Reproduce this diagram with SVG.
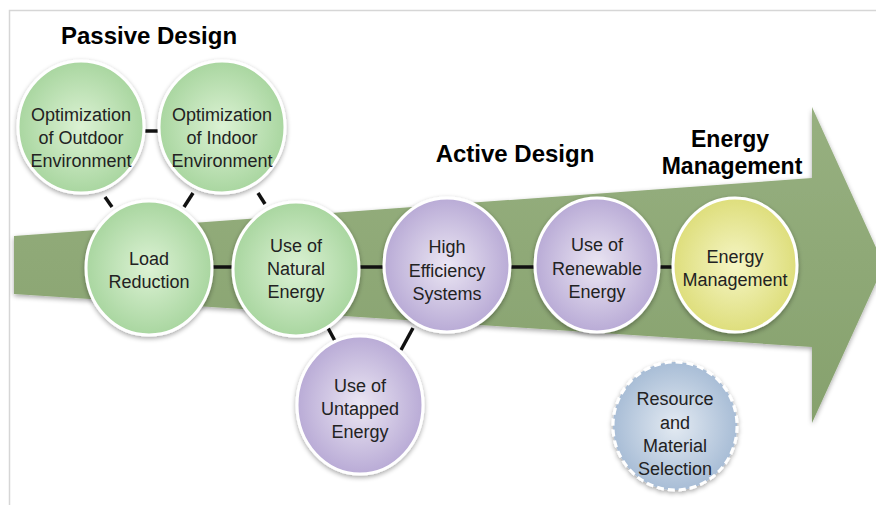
<svg xmlns="http://www.w3.org/2000/svg" width="876" height="505" viewBox="0 0 876 505">
  <defs>
    <radialGradient id="gGreen" cx="50%" cy="50%" r="50%">
      <stop offset="0" stop-color="#dcf2d4"/>
      <stop offset="1" stop-color="#a9d6a0"/>
    </radialGradient>
    <radialGradient id="gPurple" cx="50%" cy="50%" r="50%">
      <stop offset="0" stop-color="#ebe6f3"/>
      <stop offset="1" stop-color="#b9abd6"/>
    </radialGradient>
    <radialGradient id="gYellow" cx="50%" cy="50%" r="50%">
      <stop offset="0" stop-color="#f5f5c4"/>
      <stop offset="1" stop-color="#dede7c"/>
    </radialGradient>
    <radialGradient id="gBlue" cx="50%" cy="50%" r="50%">
      <stop offset="0" stop-color="#e3eaf2"/>
      <stop offset="1" stop-color="#a8bdd6"/>
    </radialGradient>
    <linearGradient id="gArrow" x1="0" y1="0" x2="0" y2="1">
      <stop offset="0" stop-color="#97b080"/>
      <stop offset="1" stop-color="#86a16d"/>
    </linearGradient>
    <filter id="shadow" x="-20%" y="-20%" width="140%" height="140%">
      <feGaussianBlur in="SourceAlpha" stdDeviation="2.5"/>
      <feOffset dx="0" dy="1.5" result="b"/>
      <feComponentTransfer><feFuncA type="linear" slope="0.35"/></feComponentTransfer>
      <feMerge><feMergeNode/><feMergeNode in="SourceGraphic"/></feMerge>
    </filter>
  </defs>
  <style>
    .node { stroke: #ffffff; stroke-width: 3; filter: url(#shadow); }
    .dashed { stroke-dasharray: 7 4; }
    .lbl { font-family: "Liberation Sans", Arial, sans-serif; font-size: 18px; fill: #222; text-anchor: middle; }
    .title { font-family: "Liberation Sans", Arial, sans-serif; font-size: 24px; font-weight: bold; fill: #000; text-anchor: middle; }
    .title2 { font-size: 23px; }
    .link { stroke: #111; stroke-width: 3.5; fill: none; }
    .frame { stroke: #d6d6d6; stroke-width: 1.5; fill: none; }
  </style>

  <rect width="876" height="505" fill="#ffffff"/>
  <path class="frame" d="M9.5 505 V10.5 H876"/>

  <!-- Big process arrow -->
  <polygon points="14,236 812,178 812,107 884,265 812,423 812,347 14,294" fill="url(#gArrow)" filter="url(#shadow)"/>

  <!-- Section titles -->
  <text class="title" x="149" y="44">Passive Design</text>
  <text class="title" x="515" y="162">Active Design</text>
  <text class="title title2" x="730" y="147">Energy</text>
  <text class="title title2" x="732" y="174">Management</text>

  <!-- Connectors -->
  <g id="connectors">
    <line class="link" x1="145" y1="131" x2="158" y2="131"/>
    <line class="link" x1="105" y1="197" x2="112" y2="207"/>
    <line class="link" x1="193" y1="193" x2="184" y2="207"/>
    <line class="link" x1="258" y1="193" x2="265" y2="204"/>
    <line class="link" x1="212" y1="267" x2="232" y2="267"/>
    <line class="link" x1="358" y1="267" x2="385" y2="267"/>
    <line class="link" x1="328" y1="328" x2="335" y2="341"/>
    <line class="link" x1="413" y1="328" x2="401" y2="350"/>
    <line class="link" x1="510" y1="267" x2="535" y2="267"/>
    <line class="link" x1="658" y1="267" x2="673" y2="267"/>
  </g>

  <!-- Passive design nodes -->
  <g id="outdoor">
    <ellipse class="node" cx="81" cy="127" rx="63" ry="66" fill="url(#gGreen)"/>
    <text class="lbl" x="81" y="121">Optimization</text>
    <text class="lbl" x="81" y="144">of Outdoor</text>
    <text class="lbl" x="81" y="167">Environment</text>
  </g>
  <g id="indoor">
    <ellipse class="node" cx="222" cy="127" rx="63" ry="66" fill="url(#gGreen)"/>
    <text class="lbl" x="222" y="121">Optimization</text>
    <text class="lbl" x="222" y="144">of Indoor</text>
    <text class="lbl" x="222" y="167">Environment</text>
  </g>
  <g id="load-reduction">
    <ellipse class="node" cx="149" cy="268" rx="63" ry="67" fill="url(#gGreen)"/>
    <text class="lbl" x="149" y="265">Load</text>
    <text class="lbl" x="149" y="288">Reduction</text>
  </g>
  <g id="natural-energy">
    <ellipse class="node" cx="296" cy="269" rx="63" ry="67" fill="url(#gGreen)"/>
    <text class="lbl" x="296" y="252">Use of</text>
    <text class="lbl" x="296" y="275">Natural</text>
    <text class="lbl" x="296" y="298">Energy</text>
  </g>

  <!-- Active design nodes -->
  <g id="untapped-energy">
    <ellipse class="node" cx="360" cy="405" rx="63" ry="69" fill="url(#gPurple)"/>
    <text class="lbl" x="360" y="392">Use of</text>
    <text class="lbl" x="360" y="415">Untapped</text>
    <text class="lbl" x="360" y="438">Energy</text>
  </g>
  <g id="high-efficiency">
    <ellipse class="node" cx="447" cy="265" rx="63" ry="67" fill="url(#gPurple)"/>
    <text class="lbl" x="447" y="253">High</text>
    <text class="lbl" x="447" y="277">Efficiency</text>
    <text class="lbl" x="447" y="300">Systems</text>
  </g>
  <g id="renewable-energy">
    <ellipse class="node" cx="597" cy="265" rx="62" ry="67" fill="url(#gPurple)"/>
    <text class="lbl" x="597" y="251">Use of</text>
    <text class="lbl" x="597" y="275">Renewable</text>
    <text class="lbl" x="597" y="298">Energy</text>
  </g>

  <!-- Energy management node -->
  <g id="energy-management">
    <ellipse class="node" cx="735" cy="265" rx="62" ry="67" fill="url(#gYellow)"/>
    <text class="lbl" x="735" y="263">Energy</text>
    <text class="lbl" x="735" y="286">Management</text>
  </g>

  <!-- Resource node -->
  <g id="resource-selection">
    <ellipse class="node dashed" cx="675" cy="426" rx="62" ry="64" fill="url(#gBlue)"/>
    <text class="lbl" x="675" y="405">Resource</text>
    <text class="lbl" x="675" y="429">and</text>
    <text class="lbl" x="675" y="452">Material</text>
    <text class="lbl" x="675" y="475">Selection</text>
  </g>
</svg>
